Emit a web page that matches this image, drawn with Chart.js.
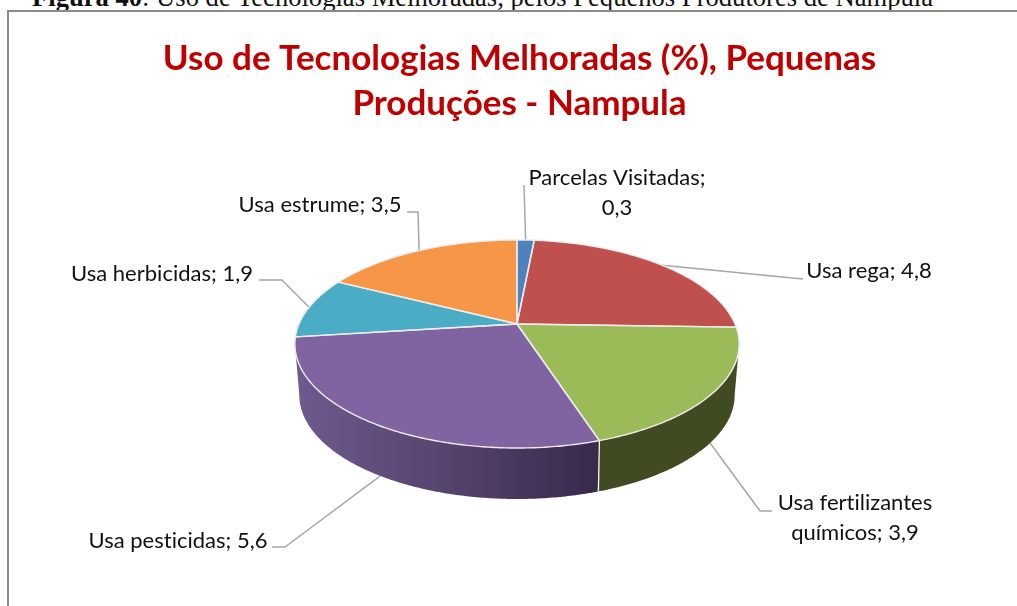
<!DOCTYPE html>
<html lang="pt">
<head>
<meta charset="utf-8">
<title>Uso de Tecnologias Melhoradas</title>
<script src="https://cdn.jsdelivr.net/npm/chart.js@4"></script>
<style>
html,body{margin:0;padding:0;background:#fff;width:1017px;height:606px;overflow:hidden}
#cap{position:absolute;left:32px;top:-15px;font:26.6px/24px "Liberation Serif",serif;color:#111;white-space:nowrap}
#frame{position:absolute;left:7px;top:10px;right:0;bottom:0;border-left:2px solid #8a8a8a;border-top:2px solid #8a8a8a}
canvas{position:absolute;left:0;top:0}
</style>
</head>
<body>
<div id="cap"><b>Figura 40</b>: Uso de Tecnologias Melhoradas, pelos Pequenos Produtores de Nampula</div>
<div id="frame"></div>
<canvas id="c" width="1017" height="606"></canvas>
<script>
const categories = ["Parcelas Visitadas","Usa rega","Usa fertilizantes químicos","Usa pesticidas","Usa herbicidas","Usa estrume"];
const values = [0.3,4.8,3.9,5.6,1.9,3.5];
const titleLines = ["Uso de Tecnologias Melhoradas (%), Pequenas","Produções - Nampula"];

const sliceColors = ["#4F81BD","#C0504D","#9BBB59","#8064A2","#4BACC6","#F79646"];
const sideColors = ["#2a4566","#6a2b29","#414B22","#5a4570","#286070","#8a5020"];
// per-slice label layout: text lines + anchor, leader elbow
const labelLayout = [
  {lines:["Parcelas Visitadas;","0,3"],x:617,y:[178,208],path:[[524,185]]},
  {lines:["Usa rega; 4,8"],x:869,y:[271],path:[[803,279]]},
  {lines:["Usa fertilizantes","químicos; 3,9"],x:855,y:[503,533],path:[[760,511],[772,511]]},
  {lines:["Usa pesticidas; 5,6"],x:178,y:[541],path:[[285,547],[272,547]]},
  {lines:["Usa herbicidas; 1,9"],x:162,y:[274],path:[[282,280],[259,280]]},
  {lines:["Usa estrume; 3,5"],x:320,y:[205],path:[[418,212],[407,212]]}
];
const P = {cx:517, cy:324, a:100.2, b:218, k:0.192, depth:51, lowX:0.98};

function proj(t, lower){
  const x=Math.cos(t), y=Math.sin(t), w=1-P.k*y;
  const s=lower?P.lowX:1;
  return [P.cx+s*P.b*x/w, P.cy+(lower?P.depth:0)+P.a*y/w];
}
function rim(ctx,t0,t1,lower,first){
  const n=Math.max(2,Math.ceil(Math.abs(t1-t0)/0.01));
  for(let i=0;i<=n;i++){
    const p=proj(t0+(t1-t0)*i/n,lower);
    if(i===0&&first) ctx.moveTo(p[0],p[1]); else ctx.lineTo(p[0],p[1]);
  }
}
const tilted3D = {
  id:'tilted3D',
  beforeDatasetsDraw(chart){
    const ctx=chart.ctx, arcs=chart.getDatasetMeta(0).data;
    const vis0=Math.asin(P.k), vis1=Math.PI-vis0;
    ctx.save();
    // leader lines
    ctx.strokeStyle="#a6a6a6"; ctx.lineWidth=1.5; ctx.lineJoin='round';
    arcs.forEach((a,i)=>{
      const mid=(a.startAngle+a.endAngle)/2, norm=((mid%(2*Math.PI))+2*Math.PI)%(2*Math.PI);
      const front=norm>vis0+0.2&&norm<vis1-0.2;
      const p=proj(mid,front);
      ctx.beginPath(); ctx.moveTo(p[0],p[1]);
      labelLayout[i].path.forEach(q=>ctx.lineTo(q[0],q[1]));
      ctx.stroke();
    });
    // side wall
    arcs.forEach((a,i)=>{
      for(const off of [0,2*Math.PI,-2*Math.PI]){
        const s=Math.max(a.startAngle+off,vis0), e=Math.min(a.endAngle+off,vis1);
        if(e<=s) continue;
        const L=proj(vis1,false)[0];
        let fill=sideColors[i];
        if(i===3){
          const g=ctx.createLinearGradient(L,0,proj(a.startAngle,false)[0],0);
          g.addColorStop(0,"#6F5A8E"); g.addColorStop(0.5,"#56436E"); g.addColorStop(1,"#38294A");
          fill=g;
        }
        ctx.beginPath(); rim(ctx,s,e,false,true); rim(ctx,e,s,true,false); ctx.closePath();
        ctx.fillStyle=fill; ctx.fill();
        if(a.startAngle+off>vis0&&a.startAngle+off<vis1){
          const p=proj(s,false), q=proj(s,true);
          ctx.strokeStyle="#f2f2f2"; ctx.lineWidth=1.3;
          ctx.beginPath(); ctx.moveTo(p[0],p[1]); ctx.lineTo(p[0]-1,q[1]); ctx.stroke();
        }
      }
    });
    // top face
    arcs.forEach((a,i)=>{
      ctx.beginPath(); ctx.moveTo(P.cx,P.cy); rim(ctx,a.startAngle,a.endAngle,false,false); ctx.closePath();
      ctx.fillStyle=a.options.backgroundColor; ctx.fill();
    });
    ctx.strokeStyle="#ececec"; ctx.lineWidth=1.4; ctx.lineJoin='round';
    arcs.forEach(a=>{
      ctx.beginPath(); ctx.moveTo(P.cx,P.cy); rim(ctx,a.startAngle,a.endAngle,false,false); ctx.closePath();
      ctx.stroke();
    });
    // labels
    ctx.fillStyle="#111"; ctx.font='22px Lato, sans-serif'; ctx.textAlign='center'; ctx.textBaseline='middle';
    ctx.letterSpacing='0.01px';
    labelLayout.forEach(l=>l.lines.forEach((t,j)=>ctx.fillText(t,l.x,l.y[j])));
    ctx.restore();
    return false;
  }
};
new Chart(document.getElementById('c'),{
  type:'pie',
  data:{labels:categories,datasets:[{data:values,backgroundColor:sliceColors}]},
  options:{
    responsive:false,animation:false,
    layout:{padding:{left:22,top:36,bottom:20,right:0}},
    plugins:{
      legend:{display:false},tooltip:{enabled:false},
      title:{display:true,text:titleLines,color:"#C00000",
        font:{family:"Lato, sans-serif",size:35,weight:'bold',lineHeight:1.286},padding:{top:0,bottom:8}}
    }
  },
  plugins:[tilted3D]
});
</script>
</body>
</html>
